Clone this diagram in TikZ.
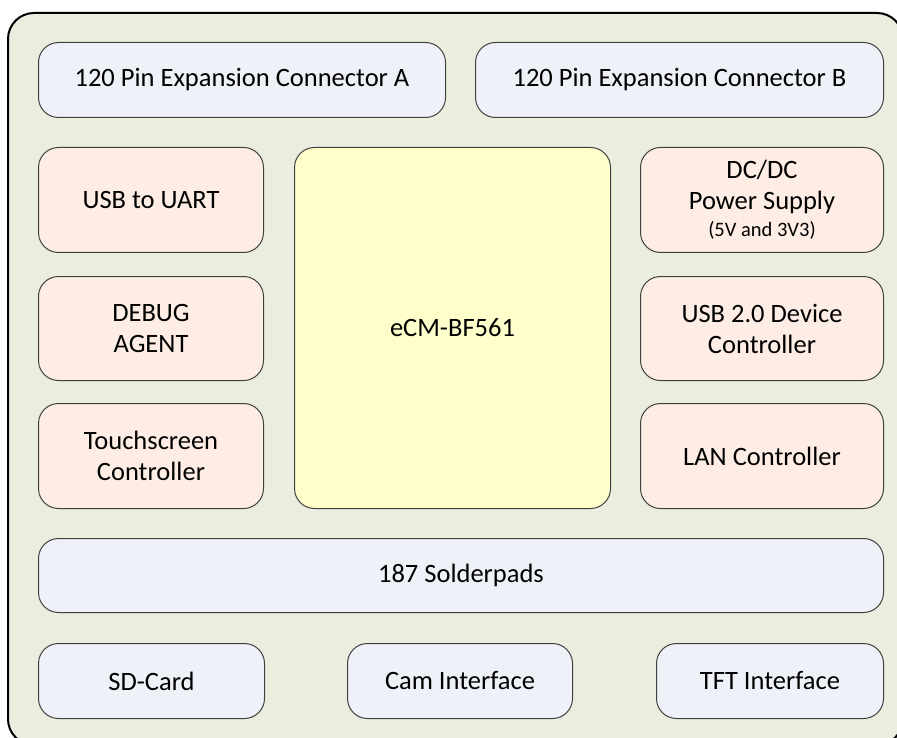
\documentclass[tikz,border=0pt]{standalone}
\usepackage{fontspec}
\setmainfont{Carlito}
\definecolor{framebg}{HTML}{EBEEDF}
\definecolor{bluebox}{HTML}{EEF1F7}
\definecolor{peachbox}{HTML}{FDEDE4}
\definecolor{yellowbox}{HTML}{FFFFCC}
\definecolor{edge}{HTML}{404040}
\begin{document}
\begin{tikzpicture}[x=1pt,y=-1pt,
  blk/.style={draw=edge, line width=1pt, rounded corners=20pt, align=center,
    font=\fontsize{26.5}{31}\selectfont, inner sep=0pt, anchor=north west, text=black},
  bluebk/.style={blk, fill=bluebox},
  peachbk/.style={blk, fill=peachbox},
  yellowbk/.style={blk, fill=yellowbox}]
\useasboundingbox (0,0) rectangle (897,738);
\begin{scope}
\clip (0,0) rectangle (897,738);
\node[draw=black, line width=2pt, fill=framebg, rounded corners=26pt, minimum width=895pt, minimum height=732pt, anchor=north west, inner sep=0pt] (frame) at (7,12) {};
\end{scope}
\node[bluebk, minimum width=407pt, minimum height=75pt] (conA) at (38,42) {120 Pin Expansion Connector A};
\node[bluebk, minimum width=408pt, minimum height=75pt] (conB) at (475,42) {120 Pin Expansion Connector B};
\node[peachbk, minimum width=225pt, minimum height=105pt] (uart) at (38,147) {USB to UART};
\node[peachbk, minimum width=225pt, minimum height=104pt] (debug) at (38,276) {DEBUG\\AGENT};
\node[peachbk, minimum width=225pt, minimum height=105pt] (touch) at (38,403) {Touchscreen\\Controller};
\node[yellowbk, minimum width=316pt, minimum height=361pt] (ecm) at (294,147) {eCM-BF561};
\node[peachbk, minimum width=243pt, minimum height=105pt] (dcdc) at (640,147) {DC/DC\\Power Supply\\[-4pt]{\fontsize{20.5}{24}\selectfont (5V and 3V3)}};
\node[peachbk, minimum width=243pt, minimum height=104pt] (usb2) at (640,276) {USB 2.0 Device\\Controller};
\node[peachbk, minimum width=243pt, minimum height=105pt] (lan) at (640,403) {LAN Controller};
\node[bluebk, minimum width=845pt, minimum height=74pt] (solder) at (38,538) {187 Solderpads};
\node[bluebk, minimum width=226pt, minimum height=75pt] (sd) at (38,643) {SD-Card};
\node[bluebk, minimum width=225pt, minimum height=75pt] (cam) at (347,643) {Cam Interface};
\node[bluebk, minimum width=227pt, minimum height=75pt] (tft) at (656,643) {TFT Interface};
\end{tikzpicture}
\end{document}
